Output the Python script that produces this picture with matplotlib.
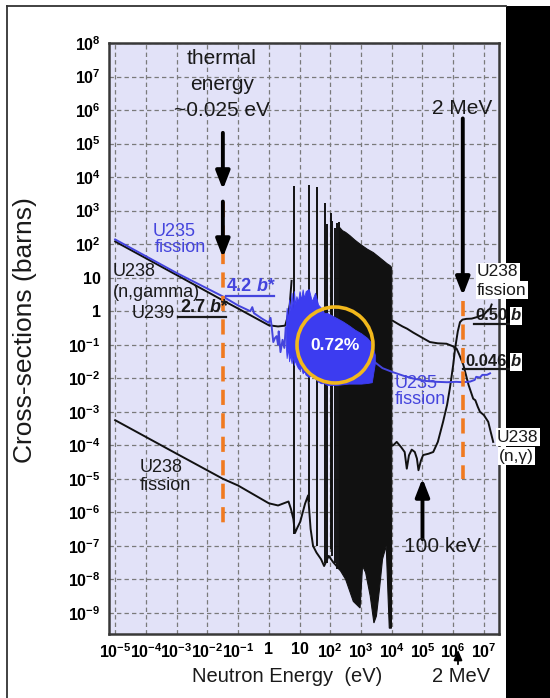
import numpy as np
import matplotlib
matplotlib.use('Agg')
import matplotlib.pyplot as plt
from matplotlib.patches import Ellipse, Rectangle
from matplotlib.lines import Line2D
from matplotlib.ticker import NullLocator

plt.rcParams['font.family'] = ['Liberation Sans', 'DejaVu Sans']
plt.rcParams['mathtext.fontset'] = 'custom'
plt.rcParams['mathtext.rm'] = 'Liberation Sans'
plt.rcParams['mathtext.bf'] = 'Liberation Sans:bold'
plt.rcParams['mathtext.it'] = 'Liberation Sans:italic'

# ---------------- data ----------------
# U238 (n,gamma) – smooth low-energy part
cap_low_E = [1e-5, 1e-3, 0.032, 0.1, 1.0, 2.0, 3.4, 4.0, 4.8, 5.5]
cap_low_s = [120, 12, 2.1, 1.2, 0.38, 0.35, 0.37, 0.63, 1.6, 8]
# U238 resolved resonances (energy, peak, lowest point of the line)
res_E = [6.67, 20.9, 36.7, 66.0, 80.7, 102.5, 116.9, 145.7, 165.3, 189.7]
res_top = [5500, 6000, 4900, 1740, 400, 870, 500, 300, 420, 450]
res_bot = [2.3e-7, 2e-6, 1e-7, 3e-8, 3e-8, 8e-8, 5e-8, 3e-8, 2e-8, 2e-8]
# dense resonance forest 200 eV - 10 keV: upper and lower envelopes
forest_top_E = [200, 251, 316, 437, 631, 933, 1585, 2512, 3981, 5370, 7079, 8710, 10000]
forest_top_s = [316, 251, 224, 178, 132, 100, 71, 56, 40, 32, 26, 23, 20]
forest_bot_E = [200, 316, 562, 933, 1122, 1413, 1995, 2630, 3162, 3981, 5012, 6607, 7586, 8318, 9772, 10000]
forest_bot_s = [2e-8, 1e-8, 2.2e-9, 1.4e-9, 2.5e-8, 1.6e-8, 3.2e-9, 5e-10, 8e-10, 5e-9, 4e-8, 1e-7, 3.2e-9, 3.5e-10, 3.5e-10, 1e-4]
# U238 (n,gamma) above 10 keV
cap_hi_E = [1.07e4, 1.58e4, 2.24e4, 3.16e4, 5e4, 1e5, 1.74e5, 3.16e5, 6.03e5, 1e6, 1.29e6,
            1.58e6, 2.14e6, 3.16e6, 4.47e6, 5.25e6, 6.31e6, 7.41e6, 1e7, 1.38e7, 1.66e7, 2e7]
cap_hi_s = [0.52, 0.42, 0.35, 0.3, 0.23, 0.16, 0.12, 0.11, 0.107, 0.089, 0.076,
            0.05, 0.025, 0.0063, 0.00245, 0.0022, 0.0014, 0.001, 7.9e-4, 5e-4, 2.5e-4, 1.26e-4]
# U238 fission
fis_low_E = [1e-5, 1e-3, 0.032, 0.1, 1.0, 2.0, 4.37, 5.25, 6.3, 7.08, 8.5, 10.5, 15.1, 19,
             22.9, 27.5, 35.5, 50, 63, 89, 126, 200]
fis_low_s = [5.6e-4, 5.6e-5, 1e-5, 6.3e-6, 1.86e-6, 1.6e-6, 2.1e-6, 1.26e-6, 6.3e-7, 2.4e-7, 3.5e-7,
             5.2e-7, 1.8e-6, 3.2e-6, 3.2e-7, 1e-7, 6.3e-8, 4e-8, 2.5e-8, 5e-8, 3.2e-8, 2e-8]
fis_hi_E = [1e4, 1.12e4, 1.45e4, 2e4, 2.63e4, 3.09e4, 3.63e4, 4.47e4, 5.62e4, 6.6e4, 7.41e4,
            8.91e4, 1.05e5, 1.58e5, 2.24e5, 3.16e5, 4.68e5, 6.31e5, 7.76e5, 1e6, 1.15e6, 1.41e6,
            1.66e6, 2e6, 2.69e6, 3.98e6, 5.75e6, 1e7, 1.41e7, 1.58e7, 1.78e7]
fis_hi_s = [1e-4, 1e-4, 1.26e-4, 8.9e-5, 6.3e-5, 2.0e-5, 5e-5, 7.4e-5, 6.3e-5, 4e-5, 1.8e-5,
            3.5e-5, 5.1e-5, 5.6e-5, 6.3e-5, 1.26e-4, 5e-4, 1.6e-3, 4.9e-3, 0.025, 0.076, 0.25,
            0.47, 0.56, 0.59, 0.6, 0.66, 0.79, 1.12, 1.17, 1.58]
# U235 fission
u235_low_E = [1e-5, 1e-3, 0.032, 0.1, 0.25, 0.29, 0.33, 0.6, 1.0, 1.14, 1.25, 1.4, 1.6, 1.8,
              2.0, 2.1, 2.4, 2.8, 3.2, 3.55]
u235_low_s = [138, 13.8, 2.75, 1.48, 1.0, 1.32, 0.87, 0.6, 0.45, 0.63, 0.32, 0.12, 0.16, 0.18,
              0.1, 0.25, 0.06, 0.14, 0.08, 0.32]
u235_res_E = [3.55, 3.8, 4.17, 4.57, 5.0, 5.5, 6.0, 6.6, 7.2, 7.9, 8.9, 10, 11.2, 12.6, 14.1,
              15.8, 20, 25, 32, 40, 50, 63, 79, 100, 158, 251, 398, 631, 1000, 1585, 2240, 2820]
u235_res_top = [0.32, 1.26, 0.5, 2.24, 1.0, 3.55, 1.26, 3.98, 1.58, 2.82, 2.0, 3.98, 2.24, 4.47,
                2.51, 3.98, 4.57, 2.0, 3.55, 1.58, 1.26, 0.89, 0.89, 0.79, 0.63, 0.5, 0.38, 0.28,
                0.22, 0.16, 0.11, 0.05]
u235_res_bot = [0.1, 0.04, 0.079, 0.032, 0.05, 0.028, 0.045, 0.025, 0.035, 0.025, 0.02, 0.018,
                0.022, 0.014, 0.016, 0.0126, 0.011, 0.0126, 0.01, 0.0079, 0.0071, 0.0071, 0.0063,
                0.0063, 0.0063, 0.0066, 0.0069, 0.0069, 0.0069, 0.0072, 0.0076, 0.028]
u235_hi_E = [2820, 5000, 1.12e4, 2.51e4, 5e4, 1.26e5, 2.88e5, 6.31e5, 1.26e6, 2e6, 3.5e6, 5e6,
             5.6e6, 7.4e6, 8.9e6, 1.26e7, 1.58e7]
u235_hi_s = [0.03, 0.02, 0.015, 0.0117, 0.0098, 0.0083, 0.0078, 0.0076, 0.0078, 0.0076, 0.0079,
             0.0089, 0.011, 0.0105, 0.0126, 0.0126, 0.014]

x_ticks = [1e-5, 1e-4, 1e-3, 1e-2, 1e-1, 1, 10, 1e2, 1e3, 1e4, 1e5, 1e6, 1e7]
x_ticklabels = [r'$\mathbf{10^{-5}}$', r'$\mathbf{10^{-4}}$', r'$\mathbf{10^{-3}}$',
                r'$\mathbf{10^{-2}}$', r'$\mathbf{10^{-1}}$', '1', '10', r'$\mathbf{10^{2}}$',
                r'$\mathbf{10^{3}}$', r'$\mathbf{10^{4}}$', r'$\mathbf{10^{5}}$',
                r'$\mathbf{10^{6}}$', r'$\mathbf{10^{7}}$']
y_ticks = [1e8, 1e7, 1e6, 1e5, 1e4, 1e3, 1e2, 10, 1, 1e-1, 1e-2, 1e-3, 1e-4, 1e-5, 1e-6,
           1e-7, 1e-8, 1e-9]
y_ticklabels = [r'$\mathbf{10^{8}}$', r'$\mathbf{10^{7}}$', r'$\mathbf{10^{6}}$',
                r'$\mathbf{10^{5}}$', r'$\mathbf{10^{4}}$', r'$\mathbf{10^{3}}$',
                r'$\mathbf{10^{2}}$', '10', '1', r'$\mathbf{10^{-1}}$', r'$\mathbf{10^{-2}}$',
                r'$\mathbf{10^{-3}}$', r'$\mathbf{10^{-4}}$', r'$\mathbf{10^{-5}}$',
                r'$\mathbf{10^{-6}}$', r'$\mathbf{10^{-7}}$', r'$\mathbf{10^{-8}}$',
                r'$\mathbf{10^{-9}}$']

thermal_E = 0.032
mev2_E = 2.05e6
kev100_E = 1e5

# ---------------- figure ----------------
W, H = 550, 698
fig = plt.figure(figsize=(5.5, 6.98), dpi=100)
fig.patch.set_facecolor('white')


def fx(px):
    return px / W


def fy(py):
    return 1 - py / H


ax = fig.add_axes([fx(109), fy(634), (499 - 109) / W, (634 - 43) / H])
ax.set_facecolor('#e2e2f8')
ax.set_xscale('log')
ax.set_yscale('log')
ax.set_xlim(10 ** -5.2, 10 ** 7.49)
ax.set_ylim(10 ** -9.63, 1e8)
ax.set_xticks(x_ticks)
ax.set_xticklabels(x_ticklabels, fontsize=11.5, fontweight='bold')
ax.set_yticks(y_ticks)
ax.set_yticklabels(y_ticklabels, fontsize=11.5, fontweight='bold')
ax.tick_params(length=0, pad=6)
ax.xaxis.set_minor_locator(NullLocator())
ax.yaxis.set_minor_locator(NullLocator())
ax.grid(True, which='major', color='#7a7a7a', lw=0.9, ls=(0, (3.5, 2.5)))
ax.set_axisbelow(True)
for s in ax.spines.values():
    s.set_color('#383838')
    s.set_linewidth(1.8)

BLK = '#111111'
BLUE = '#4444dd'
ORANGE = '#f07a20'

# black: U238 capture and fission
ax.plot(cap_low_E, cap_low_s, color=BLK, lw=1.4, zorder=3)
ax.vlines(res_E, res_bot, res_top, color=BLK, lw=1.4, zorder=3)
ax.fill(forest_top_E + forest_bot_E[::-1], forest_top_s + forest_bot_s[::-1],
        color=BLK, lw=0.8, zorder=3)
ax.plot(cap_hi_E, cap_hi_s, color=BLK, lw=1.4, zorder=3)
ax.plot(fis_low_E, fis_low_s, color=BLK, lw=1.4, zorder=3)
ax.plot(fis_hi_E, fis_hi_s, color=BLK, lw=1.4, zorder=3)

# blue: U235 fission
ax.plot(u235_low_E, u235_low_s, color=BLUE, lw=1.4, zorder=4)
ax.fill_between(u235_res_E, u235_res_bot, u235_res_top, color='#3c3cf0', lw=0.6, zorder=4)
ax.plot(u235_hi_E, u235_hi_s, color=BLUE, lw=1.4, zorder=4)

# dashed orange markers
ax.plot([thermal_E, thermal_E], [10 ** 3.27, 10 ** -6.45], color=ORANGE, lw=2.6,
        ls=(0, (4.2, 2.3)), zorder=5)
ax.plot([mev2_E, mev2_E], [10 ** 0.3, 10 ** -5.0], color=ORANGE, lw=2.6,
        ls=(0, (4.2, 2.3)), zorder=5)


def arrow(x, y0, y1):
    ax.annotate('', xy=(x, y1), xytext=(x, y0),
                arrowprops=dict(arrowstyle='-|>,head_length=0.9,head_width=0.35',
                                lw=2.8, color='black', shrinkA=0, shrinkB=0,
                                mutation_scale=12), zorder=6)


arrow(thermal_E, 10 ** 5.32, 10 ** 3.63)
arrow(thermal_E, 10 ** 3.27, 10 ** 1.60)
arrow(mev2_E, 10 ** 5.75, 10 ** 0.47)
arrow(kev100_E, 10 ** -6.8, 10 ** -4.99)

# circle with 0.72%
ax.add_patch(Ellipse((0.5795, 0.489), 76 / 390, 76 / 591, transform=ax.transAxes,
                     facecolor='none', edgecolor='#f2b81c', lw=2.6, zorder=7))
ax.text(0.5795, 0.489, '0.72%', transform=ax.transAxes, color='white', fontsize=12.5,
        fontweight='bold', ha='center', va='center', zorder=8)

# ---------------- texts ----------------
TXT = '#1a1a1a'
for s, py in [('thermal', 58), ('energy', 84), ('~0.025 eV', 110)]:
    fig.text(fx(222), fy(py), s, fontsize=15, ha='center', va='center', color=TXT)
fig.text(fx(462), fy(108), '2 MeV', fontsize=15, ha='center', va='center', color=TXT)

fig.text(fx(153), fy(232), 'U235', fontsize=13, ha='left', va='center', color=BLUE)
fig.text(fx(155), fy(248), 'fission', fontsize=13, ha='left', va='center', color=BLUE)
fig.text(fx(113), fy(272), 'U238', fontsize=13, ha='left', va='center', color=TXT)
fig.text(fx(113), fy(293), '(n,gamma)', fontsize=13, ha='left', va='center', color=TXT)
fig.text(fx(132), fy(313), 'U239', fontsize=13, ha='left', va='center', color=TXT)

fig.text(fx(227), fy(287), '4.2', fontsize=13, ha='left', va='center', color=BLUE,
         fontweight='bold')
fig.text(fx(257), fy(287), 'b*', fontsize=13, ha='left', va='center', color=BLUE,
         fontweight='bold', style='italic')
fig.add_artist(Line2D([fx(226), fx(274)], [fy(295.5), fy(295.5)], color=BLUE, lw=1.6))
fig.text(fx(180), fy(308), '2.7', fontsize=13, ha='left', va='center', color=TXT,
         fontweight='bold')
fig.text(fx(210), fy(308), 'b*', fontsize=13, ha='left', va='center', color=TXT,
         fontweight='bold', style='italic')
fig.add_artist(Line2D([fx(178), fx(226)], [fy(317), fy(317)], color=TXT, lw=1.6))

fig.text(fx(140), fy(467), 'U238', fontsize=13, ha='left', va='center', color=TXT)
fig.text(fx(140), fy(485), 'fission', fontsize=13, ha='left', va='center', color=TXT)

fig.text(fx(395), fy(383), 'U235', fontsize=13, ha='left', va='center', color=BLUE)
fig.text(fx(395), fy(400), 'fission', fontsize=13, ha='left', va='center', color=BLUE)
fig.text(fx(442), fy(547), '100 keV', fontsize=15, ha='center', va='center', color=TXT)

# black bar at right and slide frame
fig.add_artist(Rectangle((fx(506), 0), fx(44) + 0.01, fy(6), transform=fig.transFigure,
                         facecolor='black', edgecolor='none', zorder=0))
fig.add_artist(Line2D([fx(7), fx(7)], [0, fy(6)], color='#333333', lw=1.3))
fig.add_artist(Line2D([fx(7), fx(506)], [fy(6), fy(6)], color='#333333', lw=1.3))

# right-hand labels
box = dict(facecolor='white', edgecolor='none', pad=1.0)
fig.text(fx(477), fy(272), 'U238', fontsize=12.5, ha='left', va='center', color=TXT,
         bbox=box, zorder=5)
fig.text(fx(477), fy(290), 'fission', fontsize=12.5, ha='left', va='center', color=TXT,
         bbox=box, zorder=5)
fig.text(fx(475), fy(316), '0.50', fontsize=12, ha='left', va='center', color=TXT,
         fontweight='bold', zorder=5)
fig.text(fx(511), fy(316), 'b', fontsize=12, ha='left', va='center', color=TXT,
         fontweight='bold', style='italic', zorder=5, bbox=box)
fig.add_artist(Line2D([fx(474), fx(520)], [fy(324), fy(324)], color=TXT, lw=1.6))
fig.text(fx(465), fy(362), '0.046', fontsize=12, ha='left', va='center', color=TXT,
         fontweight='bold', zorder=5)
fig.text(fx(511), fy(362), 'b', fontsize=12, ha='left', va='center', color=TXT,
         fontweight='bold', style='italic', zorder=5, bbox=box)
fig.add_artist(Line2D([fx(463), fx(520)], [fy(369), fy(369)], color=TXT, lw=1.6))
fig.text(fx(497), fy(437), 'U238', fontsize=12.5, ha='left', va='center', color=TXT,
         bbox=box, zorder=5)
fig.text(fx(499), fy(456), '(n,γ)', fontsize=12.5, ha='left', va='center', color=TXT,
         bbox=box, zorder=5)

# axis titles
fig.text(fx(25), fy(330), 'Cross-sections (barns)', rotation=90, fontsize=19,
         ha='center', va='center', color=TXT)
fig.text(fx(287), fy(677), 'Neutron Energy  (eV)', fontsize=14.5, ha='center',
         va='center', color=TXT)
fig.text(fx(461), fy(677), '2 MeV', fontsize=14.5, ha='center', va='center', color=TXT)
fig.add_artist(matplotlib.patches.FancyArrowPatch(
    (fx(458), fy(667)), (fx(458), fy(647)), transform=fig.transFigure,
    arrowstyle='-|>,head_length=0.6,head_width=0.25', mutation_scale=10,
    lw=1.3, color='black'))

fig.savefig('out.png', dpi=100, facecolor='white')
